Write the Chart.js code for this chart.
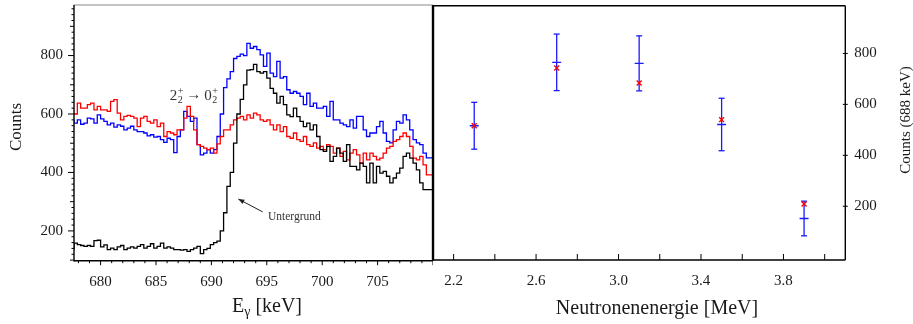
<!DOCTYPE html>
<html lang="de">
<head>
<meta charset="UTF-8">
<title>E&gamma; Spektrum und Neutronenenergie</title>
<script src="https://cdn.jsdelivr.net/npm/chart.js"></script>
<style>
    body { margin: 0; background: #fff; }
    #wrap { position: relative; width: 913px; height: 324px; overflow: hidden; }
    canvas { position: absolute; top: 0; }
    #cLinks { left: 0; }
    #cRechts { left: 420px; }
</style>
</head>
<body>
<div id="wrap">
    <canvas id="cLinks" width="433" height="324"></canvas>
    <canvas id="cRechts" width="493" height="324"></canvas>
</div>

<script>
    // Histogramm links: Bins ab 677.6 keV, Breite 0.3 keV
    const binStart = 677.6;
    const binBreite = 0.3;

    const blau = [
        580, 569, 580, 565, 569, 586, 583, 569, 597, 583,
        575, 563, 569, 555, 563, 558, 546, 552, 558, 546,
        540, 540, 535, 525, 529, 521, 523, 512, 503, 517,
        512, 468, 523, 546, 609, 592, 575, 586, 495, 460,
        466, 478, 466, 478, 523, 600, 690, 720, 745, 790,
        797, 805, 800, 842, 825, 831, 820, 802, 763, 808,
        740, 728, 780, 723, 728, 683, 671, 677, 671, 660,
        632, 671, 626, 637, 620, 620, 626, 592, 643, 580,
        580, 569, 563, 557, 580, 552, 592, 592, 546, 523,
        535, 535, 557, 575, 535, 506, 501, 546, 575, 569,
        597, 580, 546, 512, 501, 495, 466, 450
    ];

    const rot = [
        603, 600, 637, 620, 620, 632, 637, 614, 626, 614,
        614, 609, 643, 649, 603, 580, 592, 595, 592, 586,
        557, 586, 592, 575, 569, 580, 557, 569, 523, 540,
        535, 529, 546, 546, 586, 626, 592, 546, 495, 489,
        483, 478, 483, 466, 498, 523, 546, 546, 563, 580,
        586, 592, 580, 597, 586, 603, 597, 580, 575, 580,
        563, 546, 563, 540, 557, 523, 517, 535, 512, 506,
        523, 495, 489, 501, 483, 489, 478, 495, 489, 466,
        483, 455, 472, 443, 466, 478, 460, 432, 466, 443,
        466, 455, 443, 449, 466, 483, 489, 506, 512, 523,
        535, 523, 489, 449, 443, 455, 426, 392
    ];

    const schwarz = [
        136, 158, 153, 150, 147, 150, 147, 167, 168, 145,
        152, 136, 141, 136, 145, 150, 136, 141, 145, 141,
        147, 153, 141, 147, 156, 141, 147, 158, 141, 145,
        141, 136, 136, 134, 136, 130, 136, 141, 147, 122,
        136, 140, 153, 160, 165, 200, 262, 352, 400, 500,
        600, 650, 700, 750, 752, 770, 745, 740, 745, 723,
        688, 671, 637, 660, 632, 597, 591, 620, 591, 575,
        557, 569, 546, 563, 523, 478, 472, 489, 438, 455,
        483, 466, 438, 495, 421, 421, 409, 432, 421, 364,
        432, 364, 421, 398, 404, 387, 364, 381, 398, 415,
        455, 466, 449, 432, 409, 364, 341, 341
    ];

    const xTicksLinks = [680, 685, 690, 695, 700, 705];
    const yTicksLinks = [200, 400, 600, 800];

    // rechts: Counts der 688 keV Linie gegen Neutronenenergie
    const energie = [2.3, 2.7, 3.1, 3.5, 3.9];
    const counts = [516, 765, 761, 521, 152];
    const fehler = [92, 111, 108, 103, 68];
    const countsRot = [516, 743, 684, 540, 209];

    const xTicksRechts = [2.2, 2.6, 3.0, 3.4, 3.8];
    const yTicksRechts = [200, 400, 600, 800];

    const SCHRIFT = "'Liberation Serif', 'DejaVu Serif', serif";
    Chart.defaults.font.family = SCHRIFT;
    Chart.defaults.font.size = 15;
    Chart.defaults.color = '#1a1a1a';

    function stufen(werte) {
        const pts = werte.map((v, i) => ({ x: binStart + i * binBreite, y: v }));
        pts.push({ x: binStart + werte.length * binBreite, y: werte[werte.length - 1] });
        return pts;
    }

    function strich(ctx, x1, y1, x2, y2) {
        ctx.beginPath();
        ctx.moveTo(x1, y1);
        ctx.lineTo(x2, y2);
        ctx.stroke();
    }

    // feste Achsengroesse, keine Extra-Abstaende fuer Beschriftungen
    function festeGroesse(breite, hoehe) {
        return s => {
            if (breite !== null) s.width = breite;
            if (hoehe !== null) s.height = hoehe;
            s.paddingTop = 0;
            s.paddingBottom = 0;
            s.paddingLeft = 0;
            s.paddingRight = 0;
        };
    }

    // "2+2 -> 0+2" mit Hoch- und Tiefstellung
    function zustand(ctx, x, y, ziffer) {
        ctx.font = '15px ' + SCHRIFT;
        ctx.fillText(ziffer, x, y);
        x += ctx.measureText(ziffer).width;
        ctx.font = '10px ' + SCHRIFT;
        ctx.fillText('+', x + 0.5, y - 6);
        ctx.fillText('2', x + 0.5, y + 3);
        return x + 7;
    }

    const rahmenLinks = {
        id: 'rahmenLinks',
        afterDraw(chart) {
            const { ctx, chartArea: a, scales: { x, y } } = chart;
            ctx.save();
            ctx.strokeStyle = '#8a8a8a';
            ctx.lineWidth = 1.2;
            strich(ctx, a.left, a.top, a.right, a.top);
            ctx.strokeStyle = '#000';
            ctx.lineWidth = 1.4;
            strich(ctx, a.left, a.top, a.left, a.bottom + 0.7);
            strich(ctx, a.left, a.bottom, a.right, a.bottom);
            ctx.lineWidth = 1;
            for (let v = 100; v <= 960; v += 20) {
                const p = y.getPixelForValue(v);
                const len = v % 200 === 0 ? 6 : (v % 100 === 0 ? 4 : 2.5);
                strich(ctx, a.left - len, p, a.left, p);
            }
            for (let v = 678; v <= 710; v++) {
                const p = x.getPixelForValue(v);
                const len = v % 5 === 0 ? 4.5 : 2.5;
                strich(ctx, p, a.bottom, p, a.bottom + len);
            }

            // Achsentitel
            ctx.fillStyle = '#1a1a1a';
            ctx.textBaseline = 'middle';
            ctx.textAlign = 'center';
            ctx.save();
            ctx.translate(17, 127);
            ctx.rotate(-Math.PI / 2);
            ctx.font = '17px ' + SCHRIFT;
            ctx.fillText('Counts', 0, 0);
            ctx.restore();

            ctx.textBaseline = 'alphabetic';
            ctx.textAlign = 'left';
            ctx.font = '20px ' + SCHRIFT;
            const wE = ctx.measureText('E').width;
            const wRest = ctx.measureText(' [keV]').width;
            ctx.font = '14px ' + SCHRIFT;
            const wG = ctx.measureText('\u03b3').width;
            let tx = 267 - (wE + wG + wRest) / 2;
            ctx.font = '20px ' + SCHRIFT;
            ctx.fillText('E', tx, 312);
            ctx.font = '14px ' + SCHRIFT;
            ctx.fillText('\u03b3', tx + wE, 316);
            ctx.font = '20px ' + SCHRIFT;
            ctx.fillText(' [keV]', tx + wE + wG, 312);

            // Beschriftung 2+2 -> 0+2
            ctx.fillStyle = '#333';
            let ax = x.getPixelForValue(686.25);
            const ay = y.getPixelForValue(648);
            ax = zustand(ctx, ax, ay, '2');
            ctx.font = '15px ' + SCHRIFT;
            ctx.fillText('\u2192', ax + 2, ay - 1);
            ax += ctx.measureText('\u2192').width + 5;
            zustand(ctx, ax, ay, '0');

            // Untergrund mit Pfeil
            ctx.font = '11.5px ' + SCHRIFT;
            ctx.textBaseline = 'middle';
            ctx.fillText('Untergrund', x.getPixelForValue(695.1), y.getPixelForValue(248));
            const x1 = x.getPixelForValue(694.63), y1 = y.getPixelForValue(265);
            const x2 = x.getPixelForValue(692.43), y2 = y.getPixelForValue(309);
            ctx.strokeStyle = '#222';
            ctx.lineWidth = 1;
            strich(ctx, x1, y1, x2, y2);
            const w = Math.atan2(y2 - y1, x2 - x1);
            ctx.fillStyle = '#222';
            ctx.beginPath();
            ctx.moveTo(x2, y2);
            ctx.lineTo(x2 - 6 * Math.cos(w) + 2.5 * Math.sin(w), y2 - 6 * Math.sin(w) - 2.5 * Math.cos(w));
            ctx.lineTo(x2 - 6 * Math.cos(w) - 2.5 * Math.sin(w), y2 - 6 * Math.sin(w) + 2.5 * Math.cos(w));
            ctx.closePath();
            ctx.fill();
            ctx.restore();
        }
    };

    const fehlerbalken = {
        id: 'fehlerbalken',
        beforeDatasetsDraw(chart) {
            const { ctx, scales: { x, y } } = chart;
            ctx.save();
            ctx.strokeStyle = '#1a1aff';
            ctx.lineWidth = 1.3;
            energie.forEach((e, i) => {
                const px = x.getPixelForValue(e);
                const oben = y.getPixelForValue(counts[i] + fehler[i]);
                const unten = y.getPixelForValue(counts[i] - fehler[i]);
                strich(ctx, px, oben, px, unten);
                strich(ctx, px - 3, oben, px + 3, oben);
                strich(ctx, px - 3, unten, px + 3, unten);
            });
            ctx.restore();
        },
        afterDraw(chart) {
            const { ctx, chartArea: a, scales: { x, y } } = chart;
            ctx.save();
            ctx.strokeStyle = '#000';
            ctx.lineWidth = 1.4;
            strich(ctx, a.left, a.top, a.right, a.top);
            strich(ctx, a.right, a.top, a.right, a.bottom);
            strich(ctx, a.left, a.bottom, a.right, a.bottom);
            ctx.lineWidth = 2.4;
            strich(ctx, a.left, a.top - 0.7, a.left, a.bottom + 0.7);
            ctx.lineWidth = 1;
            for (let k = 0; k <= 9; k++) {
                const p = x.getPixelForValue(2.2 + 0.2 * k);
                strich(ctx, p, a.bottom, p, a.bottom - 6);
            }
            yTicksRechts.forEach(v => {
                const p = y.getPixelForValue(v);
                strich(ctx, a.right - 2.5, p, a.right + 2.5, p);
            });

            ctx.fillStyle = '#1a1a1a';
            ctx.textAlign = 'center';
            ctx.textBaseline = 'alphabetic';
            ctx.font = '20px ' + SCHRIFT;
            ctx.fillText('Neutronenenergie [MeV]', 657 - 420, 314);

            ctx.save();
            ctx.translate(906 - 420, 120);
            ctx.rotate(-Math.PI / 2);
            ctx.textBaseline = 'middle';
            ctx.font = '15px ' + SCHRIFT;
            ctx.fillText('Counts (688 keV)', 0, 0);
            ctx.restore();
            ctx.restore();
        }
    };

    const ohneGitter = { display: false, drawTicks: false };

    new Chart(document.getElementById('cLinks'), {
        type: 'line',
        data: {
            datasets: [
                { label: 'Untergrund', data: stufen(schwarz), borderColor: '#000000', order: 0 },
                { label: 'rot', data: stufen(rot), borderColor: '#ff0000', order: 1 },
                { label: 'blau', data: stufen(blau), borderColor: '#0000ff', order: 2 }
            ].map(d => Object.assign(d, { stepped: 'after', borderWidth: 1.3, pointRadius: 0, fill: false, clip: 0 }))
        },
        options: {
            responsive: false,
            devicePixelRatio: 1,
            animation: false,
            events: [],
            layout: { padding: { top: 5, left: 0, right: 0, bottom: 0 } },
            plugins: { legend: { display: false }, tooltip: { enabled: false } },
            scales: {
                x: {
                    type: 'linear', min: 677.6, max: 710,
                    grid: ohneGitter, border: { display: false },
                    ticks: { padding: 12, callback: v => String(v) },
                    afterBuildTicks: s => { s.ticks = xTicksLinks.map(v => ({ value: v })); },
                    afterFit: festeGroesse(null, 63.3)
                },
                y: {
                    type: 'linear', min: 98, max: 973,
                    grid: ohneGitter, border: { display: false },
                    ticks: { padding: 11, callback: v => String(v) },
                    afterBuildTicks: s => { s.ticks = yTicksLinks.map(v => ({ value: v })); },
                    afterFit: festeGroesse(74, null)
                }
            }
        },
        plugins: [rahmenLinks]
    });

    new Chart(document.getElementById('cRechts'), {
        type: 'scatter',
        data: {
            datasets: [
                {
                    label: 'rot',
                    data: energie.map((e, i) => ({ x: e, y: countsRot[i] })),
                    pointStyle: 'crossRot', pointRadius: 3.5, borderWidth: 1.4,
                    borderColor: '#ff0000', backgroundColor: '#ff0000'
                },
                {
                    label: 'blau',
                    data: energie.map((e, i) => ({ x: e, y: counts[i] })),
                    pointStyle: 'line', pointRadius: 4.5, borderWidth: 1.3,
                    borderColor: '#1a1aff', backgroundColor: '#1a1aff'
                }
            ]
        },
        options: {
            responsive: false,
            devicePixelRatio: 1,
            animation: false,
            events: [],
            layout: { padding: { top: 5, left: 13, right: 0, bottom: 0 } },
            plugins: { legend: { display: false }, tooltip: { enabled: false } },
            scales: {
                x: {
                    type: 'linear', min: 2.1, max: 4.1,
                    grid: ohneGitter, border: { display: false },
                    ticks: { padding: 12, callback: v => v.toFixed(1) },
                    afterBuildTicks: s => { s.ticks = xTicksRechts.map(v => ({ value: v })); },
                    afterFit: festeGroesse(null, 64)
                },
                y: {
                    type: 'linear', position: 'right', min: -11, max: 987,
                    grid: ohneGitter, border: { display: false },
                    ticks: { padding: 9, callback: v => String(v) },
                    afterBuildTicks: s => { s.ticks = yTicksRechts.map(v => ({ value: v })); },
                    afterFit: festeGroesse(67.7, null)
                }
            }
        },
        plugins: [fehlerbalken]
    });
</script>
</body>
</html>
